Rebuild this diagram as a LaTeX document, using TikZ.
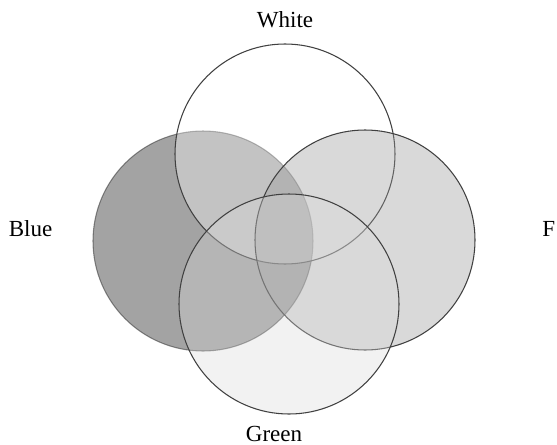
\documentclass[tikz,border=0pt]{standalone}
\usepackage{fontspec}
\setmainfont{Liberation Serif}
\begin{document}
\begin{tikzpicture}[font=\fontsize{13.1}{15}\selectfont,
    set/.style={circle, draw=black!75, line width=0.6pt, minimum size=4.4cm, inner sep=0pt},
    setname/.style={inner sep=0pt, anchor=base}]
  \useasboundingbox (0,0) rectangle (11.14,8.88);
  \node[set, fill=black, fill opacity=0.36, draw opacity=0.6] (blue) at (4.06,4.06) {};
  \node[set, fill=white, fill opacity=0.35] (white) at (5.70,5.80) {};
  \node[set, fill=black!40, fill opacity=0.37] (right) at (7.30,4.08) {};
  \node[set, fill=black!15, fill opacity=0.34] (green) at (5.78,2.80) {};
  \node[setname] (whitename) at (5.70,8.32) {White};
  \node[setname] (bluename)  at (0.61,4.15) {Blue};
  \node[setname, anchor=base west] (rightname) at (10.84,4.15) {F};
  \node[setname] (greenname) at (5.48,0.06) {Green};
\end{tikzpicture}
\end{document}
